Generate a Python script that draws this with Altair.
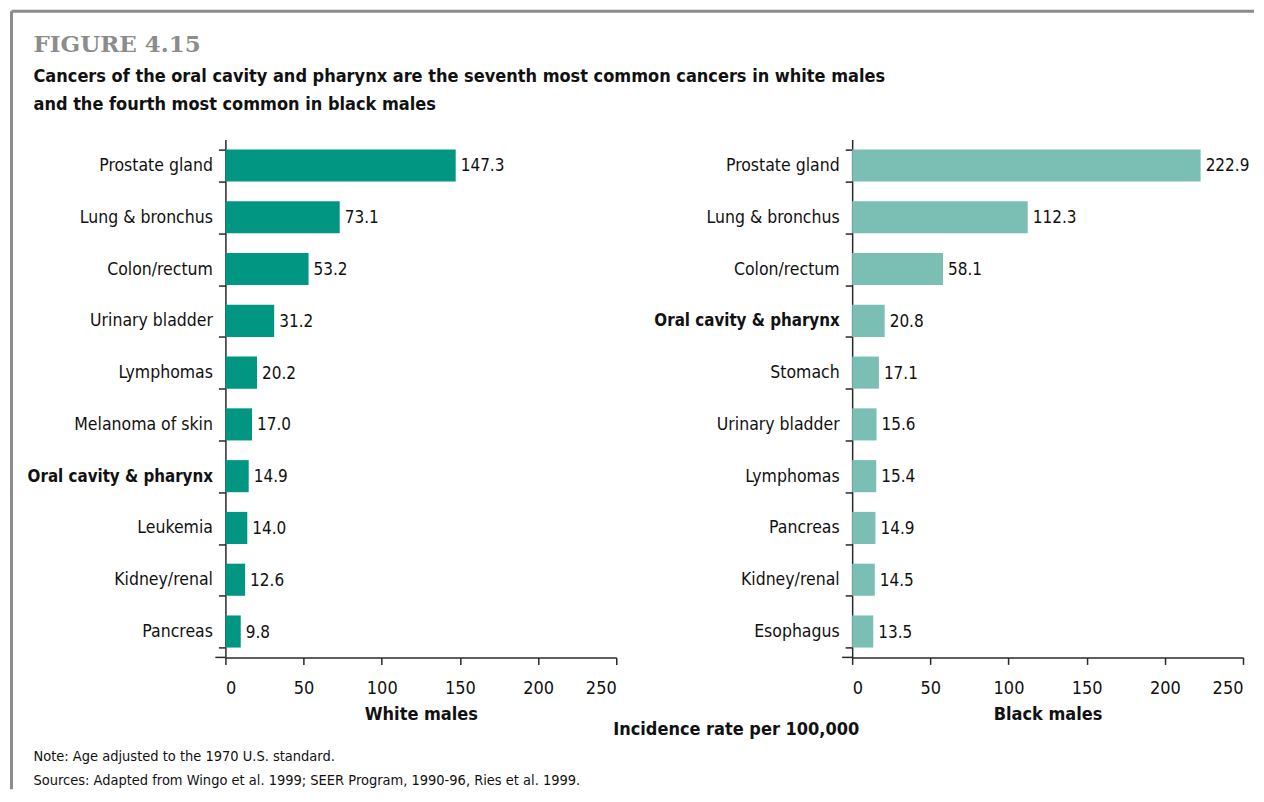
import altair as alt
import pandas as pd

# ---- data ----
white_cats = ["Prostate gland", "Lung & bronchus", "Colon/rectum", "Urinary bladder", "Lymphomas",
              "Melanoma of skin", "Oral cavity & pharynx", "Leukemia", "Kidney/renal", "Pancreas"]
white_vals = [147.3, 73.1, 53.2, 31.2, 20.2, 17.0, 14.9, 14.0, 12.6, 9.8]
black_cats = ["Prostate gland", "Lung & bronchus", "Colon/rectum", "Oral cavity & pharynx", "Stomach",
              "Urinary bladder", "Lymphomas", "Pancreas", "Kidney/renal", "Esophagus"]
black_vals = [222.9, 112.3, 58.1, 20.8, 17.1, 15.6, 15.4, 14.9, 14.5, 13.5]
x_ticks = [0, 50, 100, 150, 200, 250]
highlight = "Oral cavity & pharynx"

fig_label = "FIGURE 4.15"
title_lines = ["Cancers of the oral cavity and pharynx are the seventh most common cancers in white males",
               "and the fourth most common in black males"]
shared_x_title = "Incidence rate per 100,000"
notes = ["Note:  Age adjusted to the 1970 U.S. standard.",
         "Sources:  Adapted from Wingo et al. 1999; SEER Program, 1990-96, Ries et al. 1999."]

FONT = "DejaVu Sans Condensed, Liberation Sans Narrow, sans-serif"
SERIF = "DejaVu Serif, Liberation Serif, serif"
W, H = 391, 518
AX = "#2a2a2a"
GRAY = "#8c8c8c"
one = alt.Data(values=[{}])
is_hl = f"datum.value === '{highlight}'"


def panel(cats, vals, color, title):
    df = pd.DataFrame({"cancer": cats, "rate": vals, "label": [f"{v:.1f}" for v in vals]})
    base = alt.Chart(df)
    y = alt.Y("cancer:N", sort=None, title=None,
              scale=alt.Scale(paddingInner=0.38, paddingOuter=0.19),
              axis=alt.Axis(tickBand="extent", tickSize=7, labelPadding=6,
                            labelFontSize={"condition": {"test": is_hl, "value": 16.8}, "value": 17.5},
                            labelFont=FONT, labelColor="#111", labelLimit=400,
                            labelFontWeight={"condition": {"test": is_hl, "value": "bold"}, "value": "normal"},
                            domainColor=AX, tickColor=AX, domainWidth=1.5, tickWidth=1.5))
    x = alt.X("rate:Q", scale=alt.Scale(domain=[0, 250], nice=False), title=title,
              axis=alt.Axis(values=x_ticks, tickSize=7, labelPadding=15, labelFontSize=18,
                            labelFont=FONT, labelColor="#111", grid=False,
                            titleFont=FONT, titleFontSize=18, titleFontWeight="bold",
                            titleColor="#111", titlePadding=8,
                            domainColor=AX, tickColor=AX, domainWidth=1.5, tickWidth=1.5))
    bars = base.mark_bar(color=color).encode(x=x, y=y)
    text = base.mark_text(align="left", baseline="middle", dx=5, dy=1, fontSize=17, font=FONT,
                          color="#111").encode(x="rate:Q", y=alt.Y("cancer:N", sort=None), text="label:N")
    ext = alt.Chart(one).mark_rule(color=AX, strokeWidth=1.5).encode(
        x=alt.value(-10), x2=alt.value(0), y=alt.value(H))
    return [bars, text, ext]


def txt(s, x, y, size, font=FONT, weight="normal", color="#111", align="left", baseline="middle"):
    return alt.Chart(one).mark_text(text=s, fontSize=size, font=font, fontWeight=weight, color=color,
                                    align=align, baseline=baseline).encode(x=alt.value(x), y=alt.value(y))


frame_top = alt.Chart(one).mark_rule(color=GRAY, strokeWidth=3).encode(
    x=alt.value(-214), x2=alt.value(1029), y=alt.value(-128.5))
frame_left = alt.Chart(one).mark_rule(color=GRAY, strokeWidth=3).encode(
    x=alt.value(-214), y=alt.value(-128.5), y2=alt.value(650))

annotations = [
    frame_top, frame_left,
    txt(fig_label, -192, -88, 23, font=SERIF, weight="bold", color=GRAY, baseline="alphabetic"),
    txt(title_lines[0], -192, -58, 18, weight="bold", baseline="alphabetic"),
    txt(title_lines[1], -192, -30, 18, weight="bold", baseline="alphabetic"),
    txt(shared_x_title, 511, 591, 18, weight="bold", align="center"),
    txt(notes[0], -192, 618, 14.5),
    txt(notes[1], -192, 642, 14.5),
]

left = alt.layer(*panel(white_cats, white_vals, "#009682", "White males"), *annotations).properties(
    width=W, height=H)
right = alt.layer(*panel(black_cats, black_vals, "#7bbfb4", "Black males")).properties(width=W, height=H)

chart = alt.hconcat(left, right, spacing=236, bounds="flush").properties(
    padding={"left": 1.5, "top": 1.5, "right": 0, "bottom": 0},
    background="white",
).configure_view(stroke=None)

chart.save("out.html", embed_options={"renderer": "svg", "actions": False})
